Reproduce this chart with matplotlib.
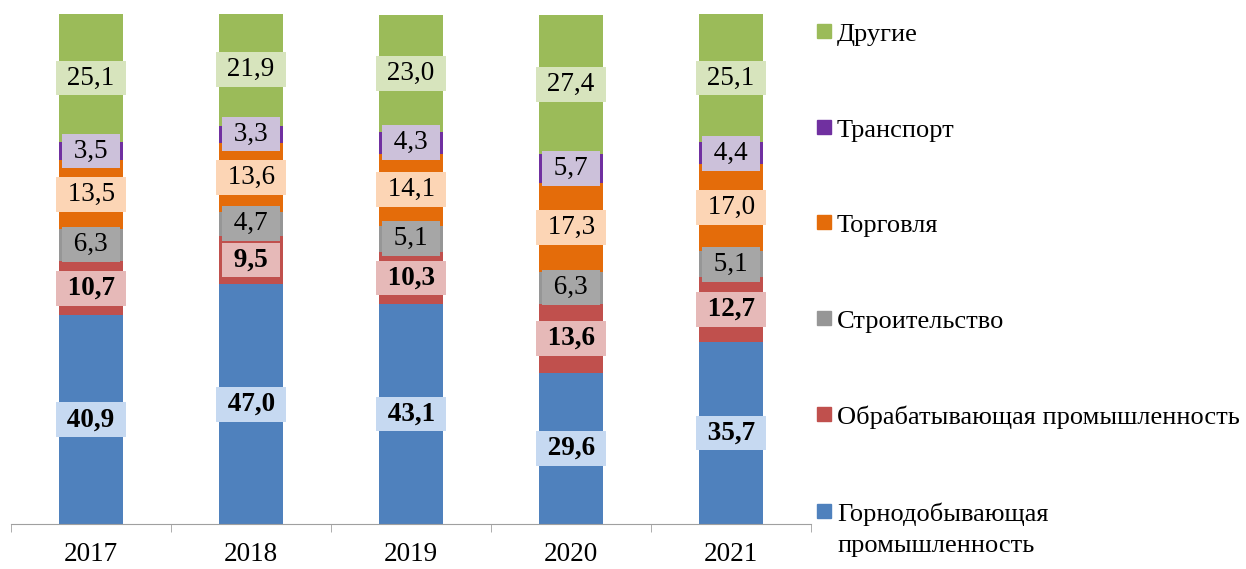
import matplotlib.pyplot as plt
from matplotlib.patches import Rectangle
import numpy as np

plt.rcParams['font.family'] = ['Liberation Serif', 'DejaVu Serif']

years = ['2017', '2018', '2019', '2020', '2021']
series = ['Горнодобывающая\nпромышленность', 'Обрабатывающая промышленность',
          'Строительство', 'Торговля', 'Транспорт', 'Другие']
mining = [40.9, 47.0, 43.1, 29.6, 35.7]
manufacturing = [10.7, 9.5, 10.3, 13.6, 12.7]
construction = [6.3, 4.7, 5.1, 6.3, 5.1]
trade = [13.5, 13.6, 14.1, 17.3, 17.0]
transport = [3.5, 3.3, 4.3, 5.7, 4.4]
other = [25.1, 21.9, 23.0, 27.4, 25.1]

colors = ['#4F81BD', '#C0504D', '#969696', '#E46C0A', '#7030A0', '#9BBB59']
box_colors = ['#C6D9F1', '#E6B9B8', '#A6A6A6', '#FCD5B5', '#CCC1DA', '#D7E4BD']
bold = [True, True, False, False, False, False]

data = [mining, manufacturing, construction, trade, transport, other]

FS = 19.5
fig = plt.figure(figsize=(12.46, 5.69), dpi=100)
ax = fig.add_axes([11 / 1246, 1 - 524 / 569, 800 / 1246, 510 / 569])

x = np.arange(len(years))
bottom = np.zeros(len(years))
for vals, c, bc, b in zip(data, colors, box_colors, bold):
    vals = np.array(vals)
    ax.bar(x, vals, 0.4, bottom=bottom, color=c)
    for xi, v, b0 in zip(x, vals, bottom):
        lbl = ' ' + f'{v:.1f}'.replace('.', ',') + ' '
        ax.text(xi, b0 + v / 2, lbl, ha='center', va='center',
                fontsize=FS, fontweight='bold' if b else 'normal',
                bbox=dict(facecolor=bc, edgecolor='none', pad=3.5))
    bottom += vals

ax.set_xlim(-0.5, len(years) - 0.5)
ax.set_ylim(0, 100)
for s in ['top', 'right', 'left']:
    ax.spines[s].set_visible(False)
ax.spines['bottom'].set_color('#A0A0A0')
ax.set_yticks([])
ax.set_xticks(x)
ax.set_xticklabels(years, fontsize=FS)
ax.tick_params(axis='x', which='major', length=0, pad=13)
ax.set_xticks(np.arange(len(years) + 1) - 0.5, minor=True)
ax.tick_params(axis='x', which='minor', length=6, color='#A0A0A0')

# legend, drawn by hand (top to bottom), marker centres in pixels
leg_y = [31, 127, 222, 318, 414, 511]
for name, c, yy in zip(series[::-1], colors[::-1], leg_y):
    fig.patches.append(Rectangle((817 / 1246, 1 - (yy + 7) / 569), 14 / 1246, 14 / 569,
                                 transform=fig.transFigure, color=c))
    for i, line in enumerate(name.split('\n')):
        fig.text(837 / 1246, 1 - (yy + 10 + 31 * i) / 569, line, fontsize=19,
                 va='baseline', ha='left')

fig.savefig('out.png', dpi=100)
